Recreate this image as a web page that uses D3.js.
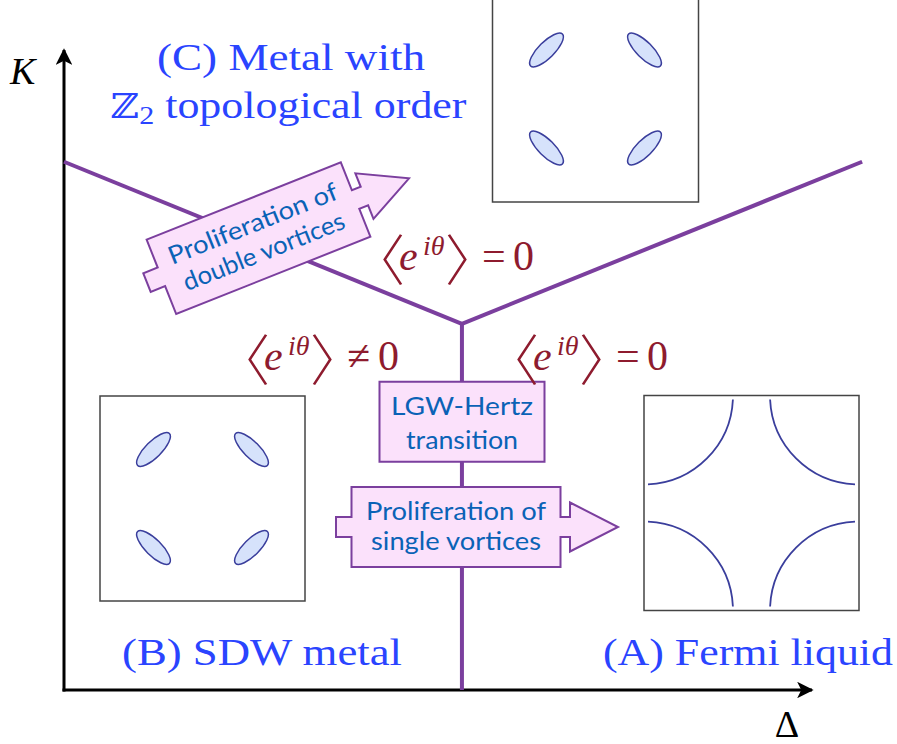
<!DOCTYPE html>
<html><head><meta charset="utf-8">
<script src="https://cdn.jsdelivr.net/npm/d3@7/dist/d3.min.js"></script>
<style>html,body{margin:0;padding:0;background:#fff;}svg{display:block;}</style>
</head><body>
<svg id="chart" width="897" height="744"></svg>
<script>
// ---------- data (chart units: Δ and K both on 0..1 axes) ----------
const phaseBoundaryLeft  = [[0.000, 0.828], [0.532, 0.574]];
const phaseBoundaryRight = [[0.532, 0.574], [1.067, 0.828]];
const phaseBoundaryVert  = [[0.532, 0.574], [0.532, 0.000]];
const axisLabels = ["K", "Δ"];
const phaseNames = ["(B) SDW metal", "(A) Fermi liquid"];
const phaseCTitle = ["(C) Metal with", "topological order"];
const orderParamLabels = [
  {rel: "=", which: "top"},
  {rel: "≠", which: "left"},
  {rel: "=", which: "right"}
];
const boxTexts = {
  lgw: ["LGW-Hertz", "transition"],
  single: ["Proliferation of", "single vortices"],
  double: ["Proliferation of", "double vortices"]
};
const pocketSigns = [[-1, -1, 1], [1, -1, -1], [-1, 1, -1], [1, 1, 1]]; // dx, dy, tilt sign
const fermiCorners = [[0, 0, 0], [1, 0, 1], [1, 1, 2], [0, 1, 3]];

// ---------- setup ----------
const svg = d3.select("#chart");
const x = d3.scaleLinear().domain([0, 1]).range([64, 812]);
const y = d3.scaleLinear().domain([0, 1]).range([690, 52]);

const PURPLE = "#7b3f9e", BLUE = "#2a44ff", RED = "#8e1b2e", TXT = "#0a62b6";
const FILL = "#fbe1fb", POCKET_FILL = "#d6e2fb", POCKET_STROKE = "#3a3e9c";
const SERIF = "Liberation Serif, Tinos, Times New Roman, DejaVu Serif, Noto Serif";
const SANS = "Lato, Open Sans, sans-serif";
const CJK = "Noto Sans CJK SC";

// arrow markers
const defs = svg.append("defs");
defs.append("marker").attr("id", "ah").attr("viewBox", "0 0 10 10")
  .attr("refX", 9).attr("refY", 5).attr("markerWidth", 5.5).attr("markerHeight", 5.5)
  .attr("markerUnits", "strokeWidth").attr("orient", "auto")
  .append("path").attr("d", "M0,0 L10,5 L0,10 L2.5,5 Z").attr("fill", "#000");

// axes (d3 axis with no ticks, plus arrows)
const gx = svg.append("g").attr("transform", `translate(0,${y(0)})`)
  .call(d3.axisBottom(x).tickValues([]).tickSizeOuter(0));
gx.select(".domain").attr("stroke", "none");
const gy = svg.append("g").attr("transform", `translate(${x(0)},0)`)
  .call(d3.axisLeft(y).tickValues([]).tickSizeOuter(0));
gy.select(".domain").attr("stroke", "none");

svg.append("line").attr("x1", x(0) - 1.5).attr("y1", y(0)).attr("x2", x(1)).attr("y2", y(0))
  .attr("stroke", "#000").attr("stroke-width", 3).attr("marker-end", "url(#ah)");
svg.append("line").attr("x1", x(0)).attr("y1", y(0) + 1.5).attr("x2", x(0)).attr("y2", y(1) - 2)
  .attr("stroke", "#000").attr("stroke-width", 3).attr("marker-end", "url(#ah)");

svg.append("text").text(axisLabels[0]).attr("x", 10).attr("y", 84)
  .style("font-family", SERIF).attr("font-style", "italic").attr("font-size", 38).attr("fill", "#000");
svg.append("text").text(axisLabels[1]).attr("x", 787).attr("y", 737).attr("text-anchor", "middle")
  .style("font-family", SERIF).attr("font-size", 38).attr("fill", "#000");

// phase boundaries
const line = d3.line().x(d => x(d[0])).y(d => y(d[1]));
[phaseBoundaryLeft, phaseBoundaryRight, phaseBoundaryVert].forEach(pts => {
  svg.append("path").attr("d", line(pts)).attr("fill", "none")
    .attr("stroke", PURPLE).attr("stroke-width", 4).attr("stroke-linejoin", "miter");
});

// insets
function pocketInset(cx, cy, size) {
  const g = svg.append("g").attr("transform", `translate(${cx},${cy})`);
  g.append("rect").attr("x", -size / 2).attr("y", -size / 2).attr("width", size).attr("height", size)
    .attr("fill", "#fff").attr("stroke", "#444").attr("stroke-width", 1.5);
  g.selectAll("ellipse").data(pocketSigns).join("ellipse")
    .attr("cx", 0).attr("cy", 0).attr("rx", 22.5).attr("ry", 8)
    .attr("transform", d => `translate(${d[0] * 49},${d[1] * 49}) rotate(${d[2] * -45})`)
    .attr("fill", POCKET_FILL).attr("stroke", POCKET_STROKE).attr("stroke-width", 1.5);
}
pocketInset(595.5, 99, 206);
pocketInset(202.5, 498.5, 205);

(function fermiInset(cx, cy, size) {
  const g = svg.append("g").attr("transform", `translate(${cx},${cy})`);
  g.append("rect").attr("x", -size / 2).attr("y", -size / 2).attr("width", size).attr("height", size)
    .attr("fill", "#fff").attr("stroke", "#444").attr("stroke-width", 1.5);
  const r = 89;
  g.selectAll("path.fs").data(fermiCorners).join("path").attr("class", "fs")
    .attr("d", d => {
      const p = d3.path();
      const ox = (d[0] ? 1 : -1) * size / 2, oy = (d[1] ? 1 : -1) * size / 2;
      const a0 = d[2] * Math.PI / 2;
      p.arc(ox, oy, r, a0 + 0.045, a0 + Math.PI / 2 - 0.045);
      return p.toString();
    })
    .attr("fill", "none").attr("stroke", POCKET_STROKE).attr("stroke-width", 1.8);
})(751.5, 503, 215);

// boxes / arrows
const arrowShape = [[-104.5, -40], [104.5, -40], [104.5, -10], [114, -10], [114, -24.5], [162, 0],
  [114, 24.5], [114, 10], [104.5, 10], [104.5, 40], [-104.5, 40], [-104.5, 10], [-120, 10], [-120, -10], [-104.5, -10]];

function boxWithText(cx, cy, angle, shapeD, lines, offsets, widths) {
  const g = svg.append("g").attr("transform", `translate(${cx},${cy}) rotate(${angle})`);
  g.append("path").attr("d", shapeD).attr("fill", FILL).attr("stroke", PURPLE)
    .attr("stroke-width", 2).attr("stroke-linejoin", "miter");
  lines.forEach((t, i) => {
    g.append("text").text(t).attr("x", 0).attr("y", offsets[i]).attr("text-anchor", "middle")
      .style("font-family", SANS).attr("font-size", 25).attr("fill", TXT)
      .attr("textLength", widths[i]).attr("lengthAdjust", "spacingAndGlyphs");
  });
}
const arrowPath = "M" + arrowShape.map(p => p.join(",")).join("L") + "Z";
boxWithText(462, 421.7, 0, "M-82.5,-40H82.5V40H-82.5Z", boxTexts.lgw, [-7, 27], [142, 112]);
boxWithText(456, 527, 0, arrowPath, boxTexts.single, [-7, 23], [180, 170]);
boxWithText(258.5, 238.2, -21.7, arrowPath, boxTexts.double, [-7, 23], [180, 172]);

// region titles
function serifText(txt, cx, by, len, color) {
  return svg.append("text").text(txt).attr("x", cx).attr("y", by).attr("text-anchor", "middle")
    .style("font-family", SERIF).attr("font-size", 38).attr("fill", color)
    .attr("textLength", len).attr("lengthAdjust", "spacingAndGlyphs");
}
serifText(phaseCTitle[0], 291, 70, 268, BLUE);
const t2 = svg.append("text").attr("x", 288.5).attr("y", 118).attr("text-anchor", "middle")
  .style("font-family", SERIF).attr("font-size", 38).attr("fill", BLUE)
  .attr("textLength", 356).attr("lengthAdjust", "spacingAndGlyphs");
t2.append("tspan").text("ℤ").style("font-family", "DejaVu Serif").attr("font-size", 34);
t2.append("tspan").text("2").attr("font-size", 26).attr("dy", 6);
t2.append("tspan").text(" " + phaseCTitle[1]).attr("dy", -6);
serifText(phaseNames[0], 262, 665, 280, BLUE);
serifText(phaseNames[1], 748, 665, 290, BLUE);

// order parameter labels  ⟨e^{iθ}⟩ = 0  (one text element each, pieces as tspans)
const labelPos = {top: [383, 270], left: [248, 370], right: [517, 370]};
orderParamLabels.forEach(l => {
  const [lx, by] = labelPos[l.which];
  const t = svg.append("text").attr("fill", RED).style("font-family", SERIF).attr("font-size", 42);
  t.append("tspan").text("〈").attr("x", lx - 33).attr("y", by + 10)
    .style("font-family", CJK).attr("font-size", 55).attr("font-weight", 300)
    .style("letter-spacing", "-34px");
  t.append("tspan").text("e").attr("x", lx + 16).attr("y", by).attr("font-style", "italic");
  t.append("tspan").text("iθ").attr("x", lx + 40).attr("y", by - 15)
    .attr("font-style", "italic").attr("font-size", 28);
  t.append("tspan").text("〉").attr("x", lx + 62).attr("y", by + 10)
    .style("font-family", CJK).attr("font-size", 55).attr("font-weight", 300)
    .style("letter-spacing", "-36px");
  t.append("tspan").text(l.rel).attr("x", lx + 99).attr("y", by);
  t.append("tspan").text("0").attr("x", lx + 130).attr("y", by);
});
</script>
</body></html>
